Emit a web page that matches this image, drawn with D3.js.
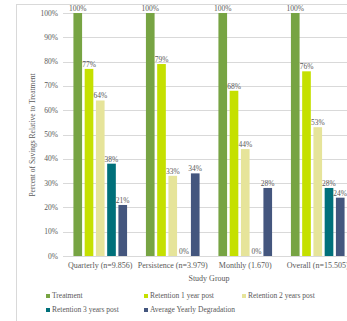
<!DOCTYPE html>
<html>
<head>
<meta charset="utf-8">
<script src="https://cdn.jsdelivr.net/npm/d3@7"></script>
<style>
  body { margin: 0; background: #fff; }
  svg { display: block; }
  text { font-family: "Liberation Serif", serif; fill: #595959; }
</style>
</head>
<body>
<svg id="chart" width="347" height="321"></svg>
<script>
// data
const groups = ["Quarterly (n=9.856)", "Persistence (n=3.979)", "Monthly (1.670)", "Overall (n=15.505)"];
const seriesNames = ["Treatment", "Retention 1 year post", "Retention 2 years post", "Retention 3 years post", "Average Yearly Degradation"];
const treatment = [100, 100, 100, 100];
const retention1 = [77, 79, 68, 76];
const retention2 = [64, 33, 44, 53];
const retention3 = [38, 0, 0, 28];
const avgDegradation = [21, 34, 28, 24];
const yTicks = [0, 10, 20, 30, 40, 50, 60, 70, 80, 90, 100];
const colors = ["#77a443", "#c5e000", "#e6e49a", "#00707a", "#44567e"];

const series = [treatment, retention1, retention2, retention3, avgDegradation];
const rows = [];
groups.forEach((g, gi) => {
  series.forEach((s, si) => rows.push({group: g, name: seriesNames[si], value: s[gi], si: si}));
});

const svg = d3.select("#chart");

// outer frame of the chart area
svg.append("rect")
  .attr("x", 16.5).attr("y", 4.5)
  .attr("width", 400).attr("height", 330)
  .style("fill", "none").style("stroke", "#d9d9d9");

const x0 = d3.scaleBand().domain(groups).range([64, 354]).paddingInner(0.26).paddingOuter(0.13);
const x1 = d3.scaleBand().domain(seriesNames).range([0, x0.bandwidth()]).paddingInner(0.23);
const y = d3.scaleLinear().domain([0, 100]).range([256, 13]);

// gridlines
svg.append("g").selectAll("line")
  .data(yTicks)
  .enter().append("line")
  .attr("x1", 63).attr("x2", 347)
  .attr("y1", d => Math.round(y(d)) + 0.5)
  .attr("y2", d => Math.round(y(d)) + 0.5)
  .style("stroke", "#d9d9d9").style("stroke-width", 1);

// y tick labels
svg.append("g").selectAll("text")
  .data(yTicks)
  .enter().append("text")
  .attr("x", 58).attr("y", d => y(d) + 2.5)
  .attr("text-anchor", "end")
  .style("font-size", "7.5px")
  .text(d => d + "%");

// bars
const bars = svg.append("g");
bars.selectAll(".bar")
  .data(rows)
  .enter().append("rect")
  .attr("class", "bar")
  .attr("x", d => x0(d.group) + x1(d.name))
  .attr("y", d => y(d.value))
  .attr("width", x1.bandwidth())
  .attr("height", d => y(0) - y(d.value))
  .style("fill", d => colors[d.si]);

// value labels
bars.selectAll(".lbl")
  .data(rows)
  .enter().append("text")
  .attr("class", "lbl")
  .attr("x", d => x0(d.group) + x1(d.name) + x1.bandwidth() / 2)
  .attr("y", d => y(d.value) - 2)
  .attr("text-anchor", "middle")
  .style("font-size", "7.5px")
  .text(d => d.value + "%");

// category labels
svg.append("g").selectAll("text")
  .data(groups)
  .enter().append("text")
  .attr("x", d => x0(d) + x0.bandwidth() / 2)
  .attr("y", 268)
  .attr("text-anchor", "middle")
  .style("font-size", "8px")
  .text(d => d);

// axis titles
svg.append("text")
  .attr("x", 209).attr("y", 281)
  .attr("text-anchor", "middle")
  .style("font-size", "8px")
  .text("Study Group");

svg.append("text")
  .attr("transform", "translate(35,135) rotate(-90)")
  .attr("text-anchor", "middle")
  .style("font-size", "7.5px")
  .text("Percent of Savings Relative to Treatment");

// legend
const legendPos = [[46, 298], [144, 298], [242, 298], [46, 312], [144, 312]];
const legend = svg.append("g").selectAll("g")
  .data(seriesNames)
  .enter().append("g")
  .attr("transform", (d, i) => `translate(${legendPos[i][0]},${legendPos[i][1]})`);
legend.append("rect")
  .attr("x", 0).attr("y", -4)
  .attr("width", 4).attr("height", 4)
  .style("fill", (d, i) => colors[i]);
legend.append("text")
  .attr("x", 6).attr("y", 0)
  .style("font-size", "7.5px")
  .text(d => d);
</script>
</body>
</html>
